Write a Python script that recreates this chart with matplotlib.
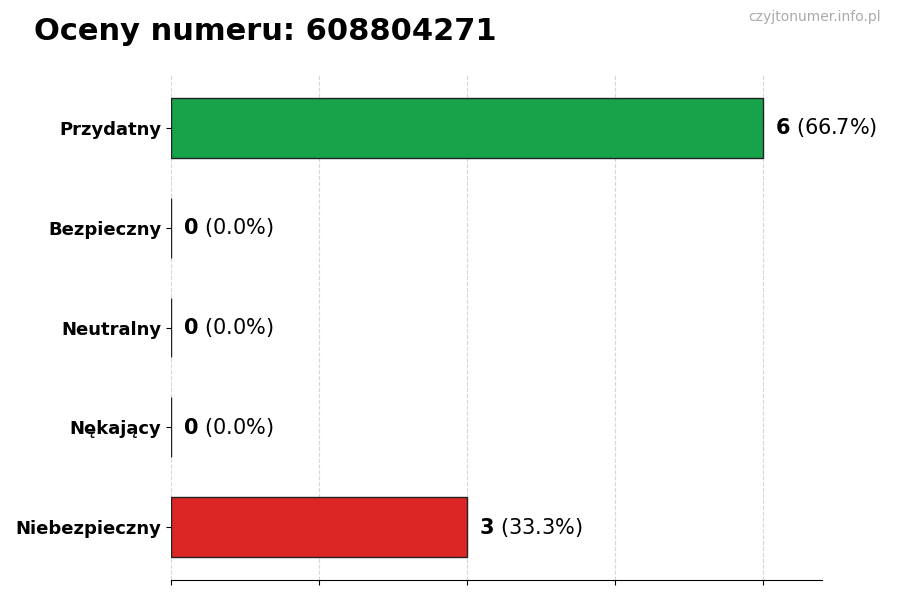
import matplotlib
matplotlib.use("Agg")
import matplotlib.pyplot as plt

kategorie = ['Przydatny', 'Bezpieczny', 'Neutralny', 'Nękający', 'Niebezpieczny']
liczby = [6, 0, 0, 0, 3]
kolory = ['#16a34a', '#9ca3af', '#3b82f6', '#f97316', '#dc2626']
numer = '608804271'

suma = sum(liczby)
fig = plt.figure(figsize=(9, 6), dpi=100)
ax = fig.add_axes([0.19, 0.0333, 0.7233, 0.8417])

y = list(range(len(kategorie)))
ax.barh(y, liczby, height=0.6, color=kolory, edgecolor='#222222', linewidth=1.0, zorder=2)
ax.invert_yaxis()
ax.set_yticks(y)
ax.set_yticklabels(kategorie, fontsize=13, fontweight='bold')

xmax = max(liczby)
ax.set_xlim(0, xmax * 1.1)
ax.set_xticks([xmax * i / 4 for i in range(5)])
ax.set_xticklabels([])
ax.grid(axis='x', linestyle='--', color='#cccccc', linewidth=0.8, alpha=0.8, zorder=1)
ax.set_axisbelow(True)

for s in ['top', 'right', 'left']:
    ax.spines[s].set_visible(False)

for i, v in enumerate(liczby):
    pct = v / suma * 100
    ax.annotate(f'$\\mathbf{{{v}}}$ ({pct:.1f}%)', (v, i), xytext=(8.5, 0),
                textcoords='offset points', va='center', fontsize=15)

fig.text(0.038, 0.947, f'Oceny numeru: {numer}', fontsize=22, fontweight='bold', va='center')
fig.text(0.979, 0.971, 'czyjtonumer.info.pl', fontsize=10, color='#aaaaaa', ha='right', va='center')

plt.savefig('out.png', dpi=100)
